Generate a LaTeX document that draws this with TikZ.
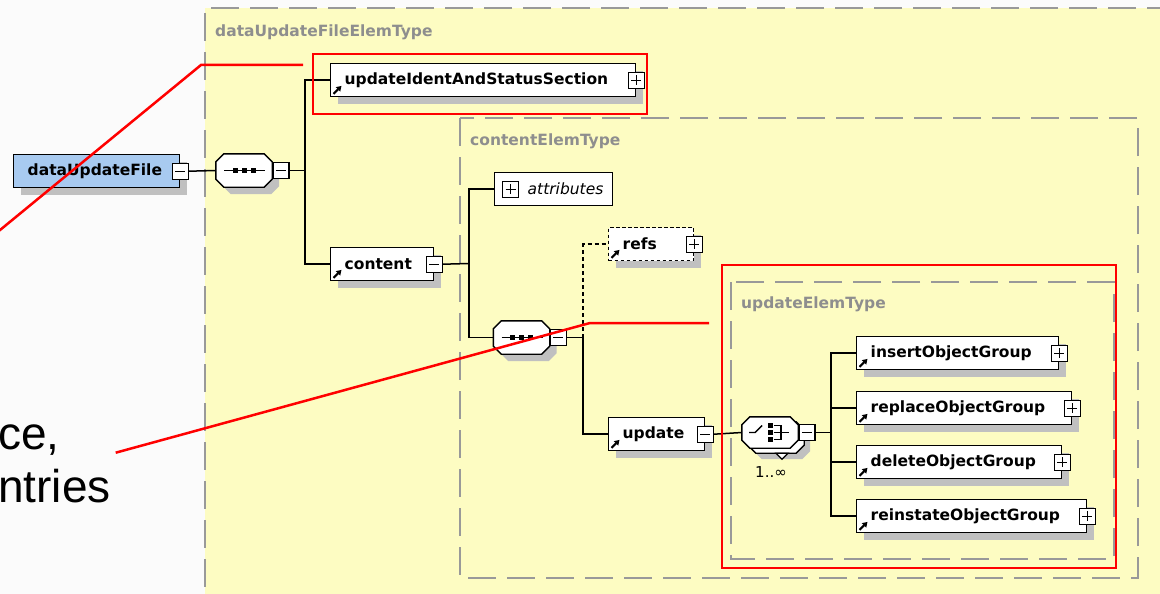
\documentclass[tikz,border=0pt]{standalone}
\usepackage{fontspec}
\usetikzlibrary{calc,arrows.meta,shadows}
\newfontfamily\dvs{DejaVu Sans}
\newfontfamily\lbs{Liberation Sans}
\definecolor{bgyel}{HTML}{FDFCC2}
\definecolor{bgwhite}{HTML}{FBFBFB}
\definecolor{dashgray}{HTML}{999999}
\definecolor{labgray}{HTML}{8E8E8E}
\definecolor{shadowc}{HTML}{C0C0C0}
\definecolor{blueel}{HTML}{A8CAF0}
\newcommand\octo[4]{\path[#4] ($(#1.north west)+(8+#2,#3)$) -- ($(#1.north east)+(-8+#2,#3)$) -- ($(#1.north east)+(#2,8+#3)$) -- ($(#1.south east)+(#2,-8+#3)$) -- ($(#1.south east)+(-8+#2,#3)$) -- ($(#1.south west)+(8+#2,#3)$) -- ($(#1.south west)+(#2,-8+#3)$) -- ($(#1.north west)+(#2,8+#3)$) -- cycle;}
\newcommand\seqglyph[1]{%
  \draw[line width=1.4pt] ($(#1.center)+(-20,0)$) -- ($(#1.center)+(21,0)$);
  \fill ($(#1.center)+(-11.5,-2.5)$) rectangle ++(5,5);
  \fill ($(#1.center)+(-2.5,-2.5)$) rectangle ++(5,5);
  \fill ($(#1.center)+(6.5,-2.5)$) rectangle ++(5,5);}
\newcommand\refarrow[1]{\draw[line width=2pt,-{Triangle[length=5pt,width=6pt]}] ($(#1.south west)+(3.5,-3.5)$) -- ++(8,-8);}
\tikzset{
  conn/.style={draw=black, line width=1.5pt},
  elbase/.style={draw=black, line width=1.4pt, fill=white, minimum height=33pt,
    inner xsep=0pt, inner ysep=0pt, text width=#1, align=left, anchor=north west,
    font=\dvs\bfseries\fontsize{15.5pt}{18pt}\selectfont},
  elem/.style={elbase=#1, execute at begin node={\hspace*{14pt}},
    drop shadow={shadow xshift=7pt,shadow yshift=-7pt,fill=shadowc,opacity=1,draw=none}},
  pmbox/.style={draw=black, line width=1.3pt, fill=white, minimum width=16pt,
    minimum height=16pt, inner sep=0pt, shape=rectangle},
  minusb/.style={pmbox, path picture={\draw[line width=1.2pt]
    ([xshift=3pt]path picture bounding box.west) -- ([xshift=-3pt]path picture bounding box.east);}},
  plusb/.style={pmbox, path picture={\draw[line width=1.2pt]
    ([xshift=3pt]path picture bounding box.west) -- ([xshift=-3pt]path picture bounding box.east);
    \draw[line width=1.2pt] ([yshift=-3pt]path picture bounding box.north) -- ([yshift=3pt]path picture bounding box.south);}},
  octn/.style={shape=rectangle, minimum width=56pt, minimum height=33pt, inner sep=0pt},
  tbox/.style={draw=dashgray, line width=1.8pt, dash pattern=on 28pt off 11pt},
  tlab/.style={anchor=west, text=labgray, inner sep=0pt, font=\dvs\bfseries\fontsize{15.5pt}{18pt}\selectfont},
  hlbox/.style={draw=red, line width=2.5pt},
  callout/.style={draw=red, line width=2.5pt},
  bigtext/.style={anchor=base west, inner sep=0pt, font=\lbs\fontsize{46pt}{53pt}\selectfont}
}
\begin{document}
\begin{tikzpicture}[x=1pt,y=-1pt]
\useasboundingbox (0,0) rectangle (1160,594);
\clip (0,0) rectangle (1160,594);
\fill[bgwhite] (0,0) rectangle (1160,594);
\fill[bgyel] (205,8) rectangle (1160,594);
\draw[tbox] (1175,8) -- (205,8) -- (205,610);
\node[tlab] (lab1) at (215,32) {dataUpdateFileElemType};
\draw[tbox] (460,118) rectangle (1138,578);
\node[tlab] (lab2) at (470,141) {contentElemType};
\draw[tbox] (731,282) rectangle (1114,559);
\node[tlab] (lab3) at (741,304) {updateElemType};

% root
\node[elem=166pt, fill=blueel] (duf) at (13,154) {dataUpdateFile};
\node[minusb] (dufm) at (duf.east) {};
% sequence 1
\node[octn] (s1) at (244,170.5) {};
\octo{s1}{7}{7}{fill=shadowc}
\octo{s1}{0}{0}{draw=black, line width=1.4pt, fill=white}
\seqglyph{s1}
\node[minusb, anchor=west] (s1m) at (s1.east) {};
% children of root
\node[elem=305pt] (uis) at (330,63) {updateIdentAndStatusSection};
\node[plusb] (uisp) at (uis.east) {};
\refarrow{uis}
\node[elem=103pt] (cont) at (330,247) {content};
\node[minusb] (contm) at (cont.east) {};
\refarrow{cont}
% content type
\node[elbase=118pt, font=\dvs\itshape\fontsize{15.5pt}{18pt}\selectfont, execute at begin node={\hspace*{33pt}}] (attr) at (494,172) {attributes};
\node[plusb, anchor=west] (attrp) at ($(attr.west)+(8,0)$) {};
\node[octn] (s2) at (521.5,337.5) {};
\octo{s2}{7}{7}{fill=shadowc}
\octo{s2}{0}{0}{draw=black, line width=1.4pt, fill=white}
\seqglyph{s2}
\node[minusb, anchor=west] (s2m) at (s2.east) {};
\node[elem=85pt, dash pattern=on 3.5pt off 2.5pt] (refs) at (608,227) {refs};
\node[plusb] (refsp) at (refs.east) {};
\refarrow{refs}
\node[elem=96pt] (upd) at (608,417) {update};
\node[minusb] (updm) at (upd.east) {};
\refarrow{upd}
% choice
\node[octn, minimum height=31pt] (ch) at (770,432.5) {};
\octo{ch}{12}{11}{fill=shadowc}
\octo{ch}{6}{5}{draw=black, line width=1.3pt, fill=white}
\path[draw=black, line width=1.2pt, fill=white] ($(ch.south)+(6,5)$) -- ($(ch.south)+(18,5)$) -- ($(ch.south)+(12,11)$) -- cycle;
\octo{ch}{0}{0}{draw=black, line width=1.4pt, fill=white}
\draw[line width=1.4pt] ($(ch.center)+(-21,0)$) -- ($(ch.center)+(-15,0)$) -- ($(ch.center)+(-8,-7)$);
\fill ($(ch.center)+(-2.5,-9.5)$) rectangle ++(5,5);
\fill ($(ch.center)+(-2.5,-2.5)$) rectangle ++(5,5);
\fill ($(ch.center)+(-2.5,4.5)$) rectangle ++(5,5);
\draw[line width=1.4pt] ($(ch.center)+(4,-7)$) -- ($(ch.center)+(11,-7)$) -- ($(ch.center)+(11,7)$) -- ($(ch.center)+(4,7)$);
\draw[line width=1.4pt] ($(ch.center)+(4,0)$) -- ($(ch.center)+(19,0)$);
\node[minusb, anchor=west] (chm) at (ch.east) {};
\node[inner sep=0pt, font=\dvs\fontsize{15pt}{17pt}\selectfont] (mult) at (771,472) {1..∞};
% update children
\node[elem=202pt] (ins) at (856,336) {insertObjectGroup};
\node[plusb] (insp) at (ins.east) {};
\refarrow{ins}
\node[elem=215pt] (rep) at (856,391) {replaceObjectGroup};
\node[plusb] (repp) at (rep.east) {};
\refarrow{rep}
\node[elem=205pt] (del) at (856,445) {deleteObjectGroup};
\node[plusb] (delp) at (del.east) {};
\refarrow{del}
\node[elem=230pt] (rei) at (856,499) {reinstateObjectGroup};
\node[plusb] (reip) at (rei.east) {};
\refarrow{rei}

% connectors
\coordinate (b1) at (305,170.5);
\coordinate (b2) at (469,263.5);
\coordinate (b3) at (583,337.5);
\coordinate (b4) at (831,432.5);
\draw[conn] (dufm.east) -- (s1.west);
\draw[conn] (s1m.east) -- (b1);
\draw[conn] (b1) |- (uis.west);
\draw[conn] (b1) |- (cont.west);
\draw[conn] (contm.east) -- (b2);
\draw[conn] (b2) |- (attr.west);
\draw[conn] (b2) |- (s2.west);
\draw[conn] (s2m.east) -- (b3);
\draw[conn, dash pattern=on 4pt off 3pt] (b3) |- (refs.west);
\draw[conn] (b3) |- (upd.west);
\draw[conn] (updm.east) -- (ch.west);
\draw[conn] (chm.east) -- (b4);
\draw[conn] (b4) |- (ins.west);
\draw[conn] (b4) |- (rep.west);
\draw[conn] (b4) |- (del.west);
\draw[conn] (b4) |- (rei.west);

% highlight boxes
\draw[hlbox] (313,54) rectangle (647,114);
\draw[hlbox] (722,265) rectangle (1116,568);

% callout text and lines
\node[bigtext] (t1) at (-2,449) {ce,};
\node[bigtext] (t2) at (-2,502) {ntries};
\coordinate (r1a) at (-3,232.5);
\coordinate (r1b) at (201,65);
\coordinate (r1c) at (303,65);
\draw[callout] (r1a) -- (r1b) -- (r1c);
\coordinate (r2a) at (115.7,452.7);
\coordinate (r2b) at (590,323);
\coordinate (r2c) at (709,323);
\draw[callout] (r2a) -- (r2b) -- (r2c);
\end{tikzpicture}
\end{document}
